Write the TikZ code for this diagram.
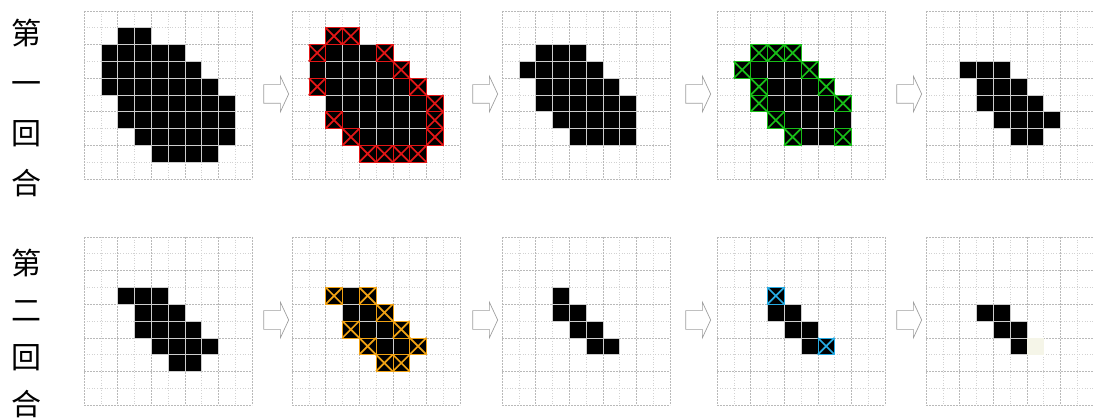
\documentclass[tikz,border=0pt]{standalone}
\usepackage{fontspec}
\newfontfamily\cjk{Noto Sans CJK TC}
\usetikzlibrary{shapes.arrows}

\definecolor{xred}{RGB}{226,22,22}
\definecolor{xgreen}{RGB}{24,190,24}
\definecolor{xorange}{RGB}{240,162,20}
\definecolor{xcyan}{RGB}{40,172,228}
\definecolor{faintcell}{RGB}{245,245,232}

\tikzset{
  minorline/.style={gray!35, dotted, line width=0.6pt},
  majorline/.style={gray!55, dashed, dash pattern=on 2pt off 1pt, line width=0.6pt},
  cellbox/.style={fill=black, draw=gray!40, line width=0.6pt},
  xmark/.style={line width=1.7pt},
  steparrow/.style={single arrow, draw=gray!75, fill=white, line width=0.7pt,
    minimum height=25pt, minimum width=35pt, inner xsep=0pt, inner ysep=9pt,
    single arrow head extend=8.5pt, single arrow tip angle=130},
  roundlabel/.style={font=\cjk\fontsize{30}{#1}\selectfont, align=center, inner sep=0pt}
}

\newcommand{\cellsz}{16.8}
% 10x10 grid, top-left corner at (#1,#2)
\newcommand{\drawgrid}[2]{%
  \foreach \i in {1,3,...,9} {
    \draw[minorline] ({#1+\i*\cellsz},#2) -- ++(0,{10*\cellsz});
    \draw[minorline] (#1,{#2+\i*\cellsz}) -- ++({10*\cellsz},0);
  }
  \foreach \i in {0,2,...,10} {
    \draw[majorline] ({#1+\i*\cellsz},#2) -- ++(0,{10*\cellsz});
    \draw[majorline] (#1,{#2+\i*\cellsz}) -- ++({10*\cellsz},0);
  }
}
% black cells, list of col/row
\newcommand{\fillcells}[3]{%
  \foreach \c/\r in #3 {
    \filldraw[cellbox] ({#1+\c*\cellsz},{#2+\r*\cellsz}) rectangle ++(\cellsz,\cellsz);
  }
}
% crossed-out cells in colour #4
\newcommand{\crosscells}[4]{%
  \foreach \c/\r in #3 {
    \draw[#4, line width=0.6pt] ({#1+\c*\cellsz},{#2+\r*\cellsz}) rectangle ++(\cellsz,\cellsz);
    \draw[#4, xmark] ({#1+\c*\cellsz},{#2+\r*\cellsz}) -- ++(\cellsz,\cellsz)
      ({#1+(\c+1)*\cellsz},{#2+\r*\cellsz}) -- ++(-\cellsz,\cellsz);
  }
}

% shapes (col/row)
\def\shapeA{2/1,3/1,1/2,2/2,3/2,4/2,5/2,1/3,2/3,3/3,4/3,5/3,6/3,1/4,2/4,3/4,4/4,5/4,6/4,7/4,2/5,3/5,4/5,5/5,6/5,7/5,8/5,2/6,3/6,4/6,5/6,6/6,7/6,8/6,3/7,4/7,5/7,6/7,7/7,8/7,4/8,5/8,6/8,7/8}
\def\crossA{2/1,3/1,1/2,5/2,6/3,1/4,7/4,8/5,2/6,8/6,3/7,8/7,4/8,5/8,6/8,7/8}
\def\shapeB{2/2,3/2,4/2,1/3,2/3,3/3,4/3,5/3,2/4,3/4,4/4,5/4,6/4,2/5,3/5,4/5,5/5,6/5,7/5,3/6,4/6,5/6,6/6,7/6,4/7,5/7,6/7,7/7}
\def\crossB{2/2,3/2,4/2,1/3,5/3,2/4,6/4,2/5,7/5,3/6,4/7,7/7}
\def\shapeC{2/3,3/3,4/3,3/4,4/4,5/4,3/5,4/5,5/5,6/5,4/6,5/6,6/6,7/6,5/7,6/7}
\def\crossC{2/3,4/3,5/4,3/5,6/5,4/6,7/6,5/7,6/7}
\def\shapeD{3/3,3/4,4/4,4/5,5/5,5/6,6/6}
\def\crossD{3/3,6/6}
\def\shapeE{3/4,4/4,4/5,5/5,5/6}

\begin{document}
\begin{tikzpicture}[x=1pt, y=-1pt]
  \useasboundingbox (0,0) rectangle (1094,419);
  % round labels
  \node[roundlabel=50] (lab1) at (27,108) {第\\一\\回\\合};
  \node[roundlabel=47] (lab2) at (27,333) {第\\二\\回\\合};
  % grids
  \foreach \gx in {84,292,502,717,926} {
    \foreach \gy in {11,237} {
      \drawgrid{\gx}{\gy}
    }
  }
  % first round
  \fillcells{84}{11}{\shapeA}
  \fillcells{292}{11}{\shapeA}
  \crosscells{292}{11}{\crossA}{xred}
  \fillcells{502}{11}{\shapeB}
  \fillcells{717}{11}{\shapeB}
  \crosscells{717}{11}{\crossB}{xgreen}
  \fillcells{926}{11}{\shapeC}
  % second round
  \fillcells{84}{237}{\shapeC}
  \fillcells{292}{237}{\shapeC}
  \crosscells{292}{237}{\crossC}{xorange}
  \fillcells{502}{237}{\shapeD}
  \fillcells{717}{237}{\shapeD}
  \crosscells{717}{237}{\crossD}{xcyan}
  \fillcells{926}{237}{\shapeE}
  \fill[faintcell] ({926+6*\cellsz},{237+6*\cellsz}) rectangle ++(\cellsz,\cellsz);
  % step arrows
  \node[steparrow] (a11) at (274,94) {};
  \node[steparrow] (a12) at (483,94) {};
  \node[steparrow] (a13) at (696,94) {};
  \node[steparrow] (a14) at (907,94) {};
  \node[steparrow] (a21) at (274,320) {};
  \node[steparrow] (a22) at (483,320) {};
  \node[steparrow] (a23) at (696,320) {};
  \node[steparrow] (a24) at (907,320) {};
\end{tikzpicture}
\end{document}
